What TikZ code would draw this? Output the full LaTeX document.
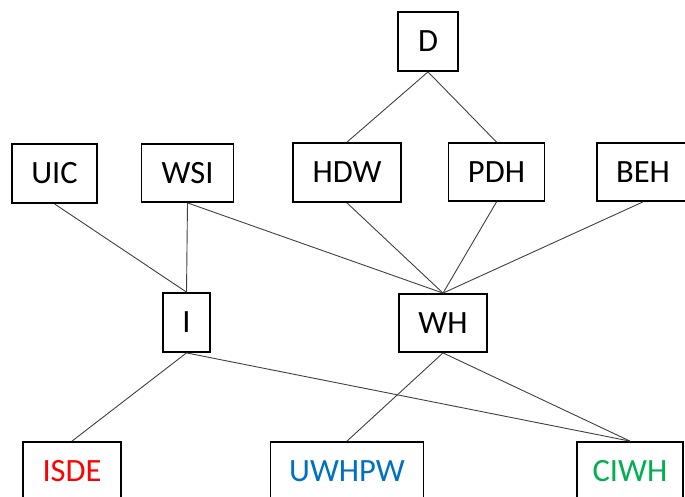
\documentclass[tikz,border=0pt]{standalone}
\usepackage{fontspec}
\setmainfont{Carlito}
\definecolor{xred}{RGB}{255,0,0}
\definecolor{xblue}{RGB}{0,112,192}
\definecolor{xgreen}{RGB}{0,176,80}
\tikzset{
  box/.style={draw=black, line width=1.8pt, rectangle, inner sep=0pt, font=\fontsize{32.5}{38}\selectfont},
  link/.style={draw=black!75, line width=0.9pt}
}
\begin{document}
\begin{tikzpicture}[x=1pt,y=-1pt]
\useasboundingbox (0,0) rectangle (685,497);
\clip (0,0) rectangle (685,497);
\fill[white] (0,0) rectangle (685,497);
\node[box, minimum width=60pt, minimum height=59pt] (D) at (428,41.5) {D};
\node[box, minimum width=85pt, minimum height=59pt] (UIC) at (54.5,173.5) {UIC};
\node[box, minimum width=92pt, minimum height=58pt] (WSI) at (187.5,173) {WSI};
\node[box, minimum width=108pt, minimum height=59pt] (HDW) at (347,172.5) {HDW};
\node[box, minimum width=96pt, minimum height=58pt] (PDH) at (496.5,172) {PDH};
\node[box, minimum width=92pt, minimum height=58pt] (BEH) at (643,172) {BEH};
\node[box, minimum width=47pt, minimum height=59pt] (I) at (186.5,322.5) {I};
\node[box, minimum width=88pt, minimum height=58pt] (WH) at (443,323) {WH};
\node[box, minimum width=98pt, minimum height=59pt, text=xred] (ISDE) at (72,471.5) {ISDE};
\node[box, minimum width=153pt, minimum height=59pt, text=xblue] (UWHPW) at (347,471.5) {UWHPW};
\node[box, minimum width=106pt, minimum height=59pt, text=xgreen] (CIWH) at (630,471.5) {CIWH};
\draw[link] (D.south) -- (HDW.north);
\draw[link] (D.south) -- (PDH.north);
\draw[link] (UIC.south) -- (I.north);
\draw[link] (WSI.south) -- (I.north);
\draw[link] (WSI.south) -- (WH.north);
\draw[link] (HDW.south) -- (WH.north);
\draw[link] (PDH.south) -- (WH.north);
\draw[link] (BEH.south) -- (WH.north);
\draw[link] (I.south) -- (ISDE.north);
\draw[link] (I.south) -- (CIWH.north);
\draw[link] (WH.south) -- (UWHPW.north);
\draw[link] (WH.south) -- (CIWH.north);
\end{tikzpicture}
\end{document}
